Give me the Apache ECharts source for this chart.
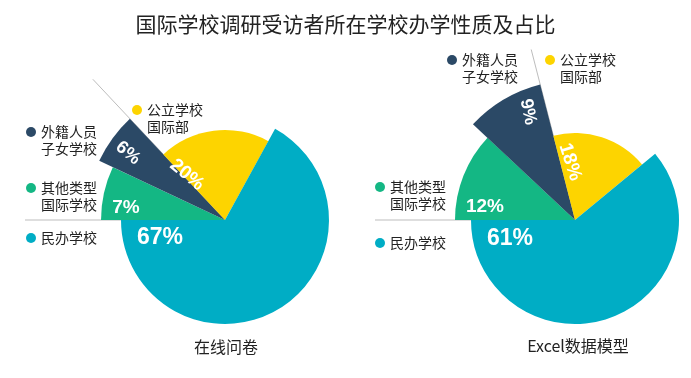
<!DOCTYPE html>
<html><head><meta charset="utf-8">
<script src="https://cdn.jsdelivr.net/npm/echarts@6/dist/echarts.min.js"></script>
<style>html,body{margin:0;padding:0;background:#fff}#c{width:691px;height:378px}</style>
</head><body><div id="c"></div>
<script>
// ---- data ----
const categories = ['其他类型国际学校', '外籍人员子女学校', '公立学校国际部', '民办学校'];
const legendLabels = ['其他类型\n国际学校', '外籍人员\n子女学校', '公立学校\n国际部', '民办学校'];
const onlineValues = [7, 6, 20, 67];
const excelValues = [12, 9, 18, 61];
const pieTitles = ['在线问卷', 'Excel数据模型'];
const chartTitle = '国际学校调研受访者所在学校办学性质及占比';

// ---- styles / layout ----
const colors = ['#14b784', '#2b4966', '#fdd400', '#00adc5'];
const CJK = '"Noto Sans CJK SC", "Noto Sans", sans-serif';
const NUM = '"Liberation Sans", Arial, sans-serif';
const pies = [
  { values: onlineValues, center: [225, 220], radii: [124, 139, 90, 104],
    labelPos: [[126, 208], [128, 153], [187, 175], [160, 238]], labelRot: [0, -40, -40, 0],
    labelSize: [19, 18, 19, 23],
    legend: [[31, 188], [31, 132], [137, 110], [31, 238]], textDx: 10,
    lineLen: 193, hLen: 200, subtitle: [226, 347] },
  { values: excelValues, center: [575, 220], radii: [120, 140, 87, 104],
    labelPos: [[485, 207], [528, 112], [570, 162], [510, 239]], labelRot: [0, -78, -72, 0],
    labelSize: [19, 18, 19, 23],
    legend: [[380, 187], [452, 60], [550, 60], [380, 243]], textDx: 10,
    lineLen: 176, hLen: 200, subtitle: [578, 346] }
];
const startAngle = 180;

const series = [];
const graphic = [];
pies.forEach((p, pi) => {
  const total = p.values.reduce((a, b) => a + b, 0);
  categories.forEach((c, i) => {
    series.push({
      type: 'pie', center: p.center, radius: p.radii[i], startAngle: startAngle, clockwise: true,
      silent: true, animation: false, avoidLabelOverlap: false,
      emphasis: { disabled: true },
      itemStyle: { borderWidth: 0 },
      labelLine: { show: false },
      label: { position: 'inside', formatter: '{c}%', color: '#fff', fontWeight: 'bold',
        fontFamily: NUM, fontSize: p.labelSize[i] },
      labelLayout: () => ({ x: p.labelPos[i][0], y: p.labelPos[i][1], align: 'center',
        verticalAlign: 'middle', rotate: p.labelRot[i] }),
      data: p.values.map((v, j) => ({
        name: categories[j], value: v,
        itemStyle: { color: j === i ? colors[i] : 'rgba(0,0,0,0)' },
        label: { show: j === i }
      }))
    });
  });
  // guide lines along slice edges
  const ang = (startAngle - 360 * (p.values[0] + p.values[1]) / total) * Math.PI / 180;
  const [cx, cy] = p.center;
  graphic.push({ type: 'line', z: -1, shape: { x1: cx, y1: cy,
    x2: cx + p.lineLen * Math.cos(ang), y2: cy - p.lineLen * Math.sin(ang) },
    style: { stroke: '#bdbdbd', lineWidth: 1 } });
  graphic.push({ type: 'line', z: -1, shape: { x1: cx, y1: cy, x2: cx - p.hLen, y2: cy },
    style: { stroke: '#bdbdbd', lineWidth: 1 } });
  // legend-like labels
  categories.forEach((c, i) => {
    const [lx, ly] = p.legend[i];
    graphic.push({ type: 'circle', shape: { cx: lx, cy: ly, r: 5 }, style: { fill: colors[i] } });
    graphic.push({ type: 'text', style: { text: legendLabels[i], x: lx + p.textDx, y: ly - 8.5,
      fill: '#222', font: '14px ' + CJK, lineHeight: 17, verticalAlign: 'top' } });
  });
  graphic.push({ type: 'text', style: { text: pieTitles[pi], x: p.subtitle[0], y: p.subtitle[1],
    fill: '#222', font: '16px ' + CJK, align: 'center', verticalAlign: 'middle' } });
});

const chart = echarts.init(document.getElementById('c'), null, { renderer: 'canvas' });
chart.setOption({
  backgroundColor: '#fff',
  animation: false,
  title: { text: chartTitle, left: 'center', top: 9,
    textStyle: { fontSize: 21, fontWeight: 'normal', color: '#222', fontFamily: CJK } },
  graphic: graphic,
  series: series
});
</script>
</body></html>
